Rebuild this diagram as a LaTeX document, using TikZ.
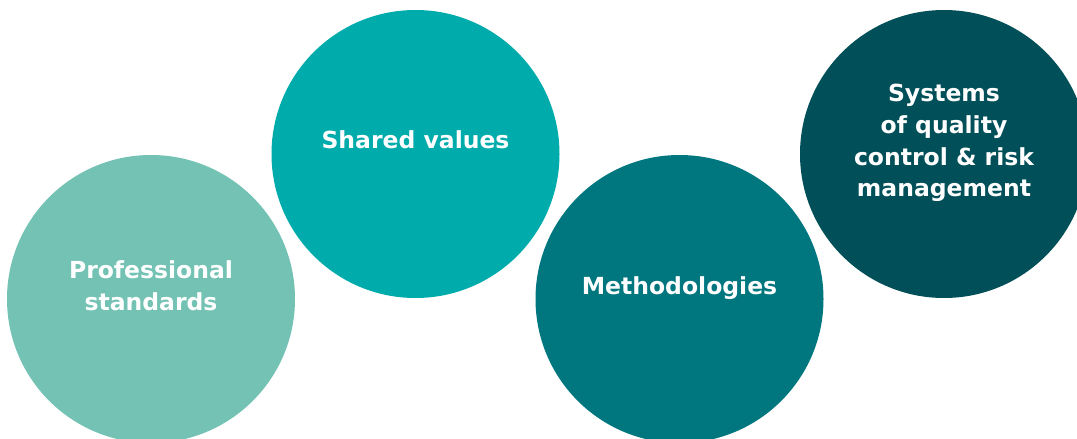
\documentclass[tikz,border=0pt]{standalone}
\usepackage{fontspec}
\setmainfont{DejaVu Sans}
\definecolor{cA}{HTML}{73C2B4}
\definecolor{cB}{HTML}{00ABAC}
\definecolor{cC}{HTML}{00767F}
\definecolor{cD}{HTML}{014F58}
\tikzset{
  disc/.style={circle, minimum size=288pt, inner sep=0pt, draw=none},
  lbl/.style={text=white, align=center, inner sep=0pt, font=\bfseries\fontsize{23.5}{31.7}\selectfont}
}
\begin{document}
\begin{tikzpicture}[x=1pt,y=-1pt]
\useasboundingbox (0,0) rectangle (1077,439);
\clip (0,0) rectangle (1077,439);
\node[disc, fill=cA] (c1) at (151,299) {};
\node[disc, fill=cB] (c2) at (415.5,154) {};
\node[disc, fill=cC] (c3) at (679.5,299) {};
\node[disc, fill=cD] (c4) at (944,154) {};
\node[lbl] (t1) at ([yshift=13pt]c1.center) {Professional\\standards};
\node[lbl] (t2) at ([yshift=14pt]c2.center) {Shared values};
\node[lbl] (t3) at ([yshift=11pt]c3.center) {Methodologies};
\node[lbl] (t4) at ([yshift=11pt]c4.center) {Systems\\of quality\\control \& risk\\management};
\end{tikzpicture}
\end{document}
